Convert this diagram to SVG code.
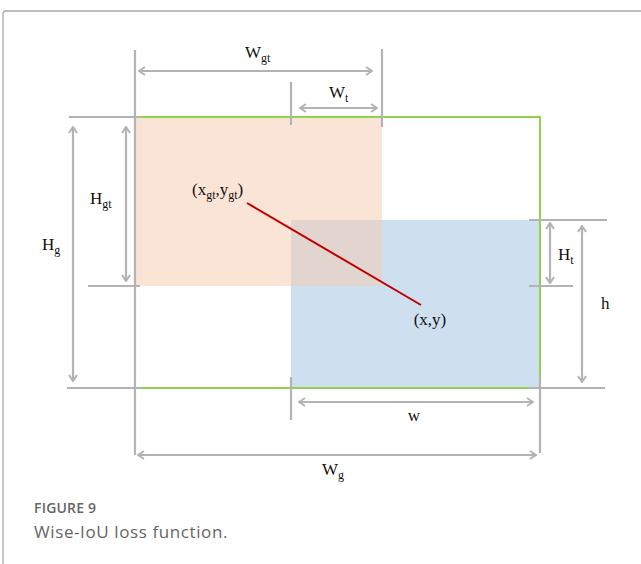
<svg xmlns="http://www.w3.org/2000/svg" width="641" height="564" viewBox="0 0 641 564">
<defs>
<style>
.dim{stroke:#b3b3b3;stroke-width:2.2;fill:none}
.arr{stroke:#b3b3b3;stroke-width:2.2;fill:none;marker-start:url(#ah);marker-end:url(#ah)}
.lbl{font-family:"Liberation Serif","Times New Roman",serif;font-size:17px;fill:#111}
.sub{font-size:12px}
.cap1{font-family:"Open Sans","Noto Sans",sans-serif;font-size:14px;font-weight:600;letter-spacing:0.2px;fill:#666}
.cap2{font-family:"Open Sans","Noto Sans",sans-serif;font-size:17px;letter-spacing:0.6px;fill:#666}
</style>
<marker id="ah" viewBox="0 0 10 10" refX="9" refY="5" markerWidth="10" markerHeight="10" markerUnits="userSpaceOnUse" orient="auto-start-reverse">
<path d="M3,1 L9,5 L3,9" fill="none" stroke="#b3b3b3" stroke-width="2"/>
</marker>
</defs>
<rect width="641" height="564" fill="#fff"/>
<path d="M3,564 V14 Q3,11 6,11 H641" fill="none" stroke="#aaa" stroke-width="1.3"/>

<g id="pred-box">
<rect x="291" y="220" width="249" height="168" fill="#cedff0"/>
</g>
<g id="gt-box">
<rect x="135" y="117" width="247" height="169" fill="#f5caae" fill-opacity="0.5"/>
</g>
<g id="enclosing-box">
<rect x="135" y="117" width="405" height="271" fill="none" stroke="#92d050" stroke-width="2"/>
</g>

<g id="connectors">
<path class="dim" d="M135,50 V455 M382,49 V127 M291,82 V125 M291,377 V420 M540,377 V453"/>
<path class="dim" d="M69,117 H140 M88,286 H140 M67,388 H140 M529,220 H607 M529,286 H573 M529,388 H605"/>
<line class="arr" x1="139" y1="71" x2="372" y2="71"/>
<line class="arr" x1="300" y1="108" x2="377" y2="108"/>
<line class="arr" x1="126" y1="127" x2="126" y2="281"/>
<line class="arr" x1="73" y1="127" x2="73" y2="381"/>
<line class="arr" x1="550" y1="223" x2="550" y2="283"/>
<line class="arr" x1="582" y1="226" x2="582" y2="382"/>
<line class="arr" x1="299" y1="402" x2="533" y2="402"/>
<line class="arr" x1="138" y1="455" x2="536" y2="455"/>
<line x1="247" y1="203" x2="421" y2="305" stroke="#c00000" stroke-width="2"/>
</g>

<g id="labels">
<text class="lbl" x="245" y="58">W<tspan class="sub" dy="4">gt</tspan></text>
<text class="lbl" x="329" y="98">W<tspan class="sub" dy="4">t</tspan></text>
<text class="lbl" x="90" y="204">H<tspan class="sub" dy="4">gt</tspan></text>
<text class="lbl" x="42" y="250">H<tspan class="sub" dy="4">g</tspan></text>
<text class="lbl" x="558" y="260">H<tspan class="sub" dy="4">t</tspan></text>
<text class="lbl" x="601" y="309">h</text>
<text class="lbl" x="414" y="421" text-anchor="middle">w</text>
<text class="lbl" x="322" y="475">W<tspan class="sub" dy="4">g</tspan></text>
<text class="lbl" x="192" y="195">(x<tspan class="sub" dy="4">gt</tspan><tspan dy="-4">,y</tspan><tspan class="sub" dy="4">gt</tspan><tspan dy="-4">)</tspan></text>
<text class="lbl" x="430" y="325" text-anchor="middle">(x,y)</text>
</g>

<g id="caption">
<text class="cap1" x="34" y="513">FIGURE 9</text>
<text class="cap2" x="34" y="538">Wise-IoU loss function.</text>
</g>
</svg>
